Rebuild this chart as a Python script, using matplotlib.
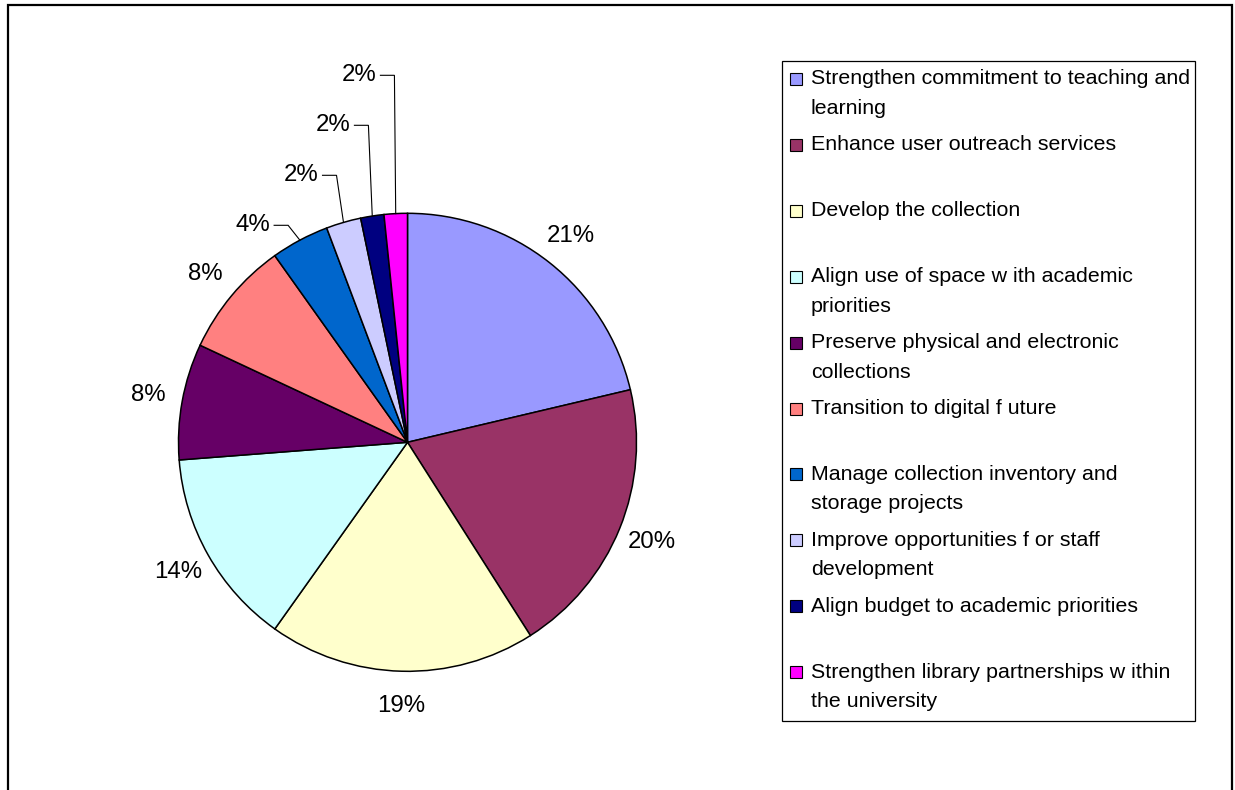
import numpy as np
import matplotlib
matplotlib.use("Agg")
import matplotlib.pyplot as plt
from matplotlib.patches import Rectangle

# ---------------- data ----------------
categories = [
    "Strengthen commitment to teaching and learning",
    "Enhance user outreach services",
    "Develop the collection",
    "Align use of space w ith academic priorities",
    "Preserve physical and electronic collections",
    "Transition to digital f uture",
    "Manage collection inventory and storage projects",
    "Improve opportunities f or staff development",
    "Align budget to academic priorities",
    "Strengthen library partnerships w ithin the university",
]
counts = [26, 24, 23, 17, 10, 10, 5, 3, 2, 2]
colors = ["#9999FF", "#993366", "#FFFFCC", "#CCFFFF", "#660066",
          "#FF8080", "#0066CC", "#CCCCFF", "#000080", "#FF00FF"]

# ---------------- layout ----------------
W, H = 1235, 790
plt.rcParams['font.family'] = ['Liberation Sans', 'DejaVu Sans']
fig = plt.figure(figsize=(W / 100, H / 100), dpi=100)
ax = fig.add_axes([0, 0, 1, 1])

cx, cy, R = 407.5, H - 442.3, 229.0
wedges, _ = ax.pie(counts, colors=colors, startangle=90, counterclock=False,
                   center=(cx, cy), radius=R,
                   wedgeprops=dict(edgecolor="black", linewidth=1.1))
ax.set_xlim(0, W)
ax.set_ylim(0, H)
ax.set_aspect('equal')
ax.set_axis_off()

total = float(sum(counts))
pct_fs = 17.3
small_k = 0
for i, (w, v) in enumerate(zip(wedges, counts)):
    mid = np.deg2rad((w.theta1 + w.theta2) / 2.0)
    label = f"{round(v / total * 100)}%"
    if v / total >= 0.05:
        rl = R * 1.15
        ax.text(cx + rl * np.cos(mid), cy + rl * np.sin(mid), label,
                ha='center', va='center', fontsize=pct_fs, color='black')
    else:
        ex, ey = cx + R * np.cos(mid), cy + R * np.sin(mid)
        ky = cy + R - 12 + 50 * small_k
        kx = ex - 25 * abs(np.cos(mid))
        ax.plot([kx - 14, kx, ex], [ky, ky, ey], color='black', lw=0.8,
                solid_joinstyle='miter')
        ax.text(kx - 18, ky, label, ha='right', va='center',
                fontsize=pct_fs, color='black')
        small_k += 1

# ---------------- legend ----------------
leg_fs = 15.4
renderer = fig.canvas.get_renderer()


def text_width(s):
    t = ax.text(0, 0, s, fontsize=leg_fs)
    wpx = t.get_window_extent(renderer).width
    t.remove()
    return wpx


def wrap(s, maxw):
    lines, cur = [], ""
    for word in s.split(" "):
        trial = (cur + " " + word).strip()
        if cur and text_width(trial) > maxw:
            lines.append(cur)
            cur = word
        else:
            cur = trial
    lines.append(cur)
    return lines


lx0, lx1 = 782, 1195
ly_top, ly_bot = 61, 721
ax.add_patch(Rectangle((lx0, H - ly_bot), lx1 - lx0, ly_bot - ly_top,
                       facecolor='white', edgecolor='black', lw=0.9, zorder=3))
first_y, step, line_h = 79.0, 65.9, 29.5
for i, (cat, col) in enumerate(zip(categories, colors)):
    yc = first_y + step * i
    ax.add_patch(Rectangle((790, H - yc - 6), 12, 12, facecolor=col,
                           edgecolor='black', lw=0.8, zorder=4))
    for j, ln in enumerate(wrap(cat, 382)):
        ax.text(811, H - (yc + j * line_h), ln, ha='left', va='center',
                fontsize=leg_fs, color='black', zorder=5)

# ---------------- outer frame ----------------
ax.plot([8, 8, 1232, 1232], [0, H - 5, H - 5, 0], color='black', lw=1.6,
        solid_joinstyle='miter', clip_on=False)

fig.savefig("out.png", dpi=100, facecolor='white')
